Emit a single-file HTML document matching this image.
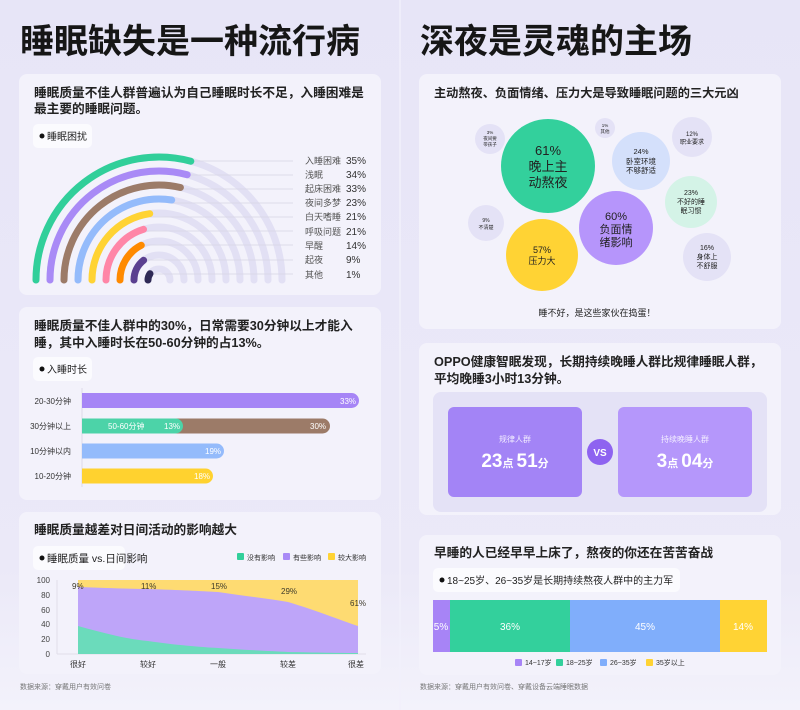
<!DOCTYPE html>
<html><head><meta charset="utf-8"><style>
html,body{margin:0;padding:0;width:800px;height:710px;overflow:hidden;background:#e9e7f8}
svg{display:block}
text{font-family:"Liberation Sans","Noto Sans CJK SC",sans-serif}
</style></head><body>
<svg width="800" height="710" viewBox="0 0 800 710" xmlns="http://www.w3.org/2000/svg">
<defs>
<linearGradient id="bg" x1="0" y1="0" x2="0" y2="1">
<stop offset="0" stop-color="#e7e5f7"/><stop offset="0.8" stop-color="#ebe9f8"/><stop offset="1" stop-color="#f3f2fb"/>
</linearGradient>
</defs>
<rect width="800" height="710" fill="url(#bg)"/>
<line x1="400" y1="0" x2="400" y2="710" stroke="#f1f0fb" stroke-width="1.5"/>

<!-- Titles -->
<text x="20" y="53" font-size="34" font-weight="bold" fill="#161616">睡眠缺失是一种流行病</text>
<text x="420" y="53" font-size="34" font-weight="bold" fill="#161616">深夜是灵魂的主场</text>

<!-- Panel 1 -->
<rect x="19" y="74" width="362" height="221" rx="8" fill="#f3f2fb"/>
<text x="34" y="97" font-size="12.7" font-weight="bold" fill="#222">睡眠质量不佳人群普遍认为自己睡眠时长不足，入睡困难是</text>
<text x="34" y="113" font-size="12.7" font-weight="bold" fill="#222">最主要的睡眠问题。</text>
<rect x="33" y="124" width="59" height="24" rx="5" fill="#fbfbfe"/>
<circle cx="42" cy="136" r="2.5" fill="#111"/>
<text x="47" y="140" font-size="10" fill="#222">睡眠困扰</text>

<g fill="none" stroke="#e2e0f4" stroke-width="7" stroke-linecap="round">
<path d="M36 280 A123 123 0 0 1 282 280"/>
<path d="M50 280 A109 109 0 0 1 268 280"/>
<path d="M64 280 A95 95 0 0 1 254 280"/>
<path d="M78 280 A81 81 0 0 1 240 280"/>
<path d="M92 280 A67 67 0 0 1 226 280"/>
<path d="M106 280 A53 53 0 0 1 212 280"/>
<path d="M120 280 A39 39 0 0 1 198 280"/>
<path d="M134 280 A25 25 0 0 1 184 280"/>
<path d="M148 280 A11 11 0 0 1 170 280"/>
</g>
<g stroke="#d6d4e4" stroke-width="0.8">
<line x1="191" y1="161" x2="293" y2="161"/>
<line x1="187" y1="175" x2="293" y2="175"/>
<line x1="180" y1="189" x2="293" y2="189"/>
<line x1="172" y1="203" x2="293" y2="203"/>
<line x1="150" y1="217" x2="293" y2="217"/>
<line x1="143" y1="231" x2="293" y2="231"/>
<line x1="141" y1="245" x2="293" y2="245"/>
<line x1="144" y1="260" x2="293" y2="260"/>
<line x1="150" y1="274" x2="293" y2="274"/>
</g>
<g fill="none" stroke-width="7" stroke-linecap="round">
<path d="M36 280 A123 123 0 0 1 190.8 161.2" stroke="#31cf9a"/>
<path d="M50 280 A109 109 0 0 1 187.2 174.7" stroke="#a98af6"/>
<path d="M64 280 A95 95 0 0 1 180.4 187.5" stroke="#9c7b68"/>
<path d="M78 280 A81 81 0 0 1 171.7 200" stroke="#94bbfb"/>
<path d="M92 280 A67 67 0 0 1 149.7 213.7" stroke="#ffd334"/>
<path d="M106 280 A53 53 0 0 1 143.5 229.3" stroke="#ff86a7"/>
<path d="M120 280 A39 39 0 0 1 141.3 245.3" stroke="#ff8a00"/>
<path d="M134 280 A25 25 0 0 1 143.6 260.3" stroke="#5b4090"/>
<path d="M148 280 A11 11 0 0 1 150 273.7" stroke="#2f2a56"/>
</g>
<g font-size="9" fill="#555">
<text x="305" y="164">入睡困难</text><text x="305" y="178">浅眠</text><text x="305" y="192">起床困难</text>
<text x="305" y="206">夜间多梦</text><text x="305" y="220">白天嗜睡</text><text x="305" y="235">呼吸问题</text>
<text x="305" y="249">早醒</text><text x="305" y="263">起夜</text><text x="305" y="278">其他</text>
</g>
<g font-size="10" fill="#333">
<text x="346" y="164">35%</text><text x="346" y="178">34%</text><text x="346" y="192">33%</text>
<text x="346" y="206">23%</text><text x="346" y="220">21%</text><text x="346" y="235">21%</text>
<text x="346" y="249">14%</text><text x="346" y="263">9%</text><text x="346" y="278">1%</text>
</g>

<!-- Panel 2 -->
<rect x="19" y="307" width="362" height="193" rx="8" fill="#f3f2fb"/>
<text x="34" y="330" font-size="12.7" font-weight="bold" fill="#222">睡眠质量不佳人群中的30%，日常需要30分钟以上才能入</text>
<text x="34" y="347" font-size="12.7" font-weight="bold" fill="#222">睡，其中入睡时长在50-60分钟的占13%。</text>
<rect x="33" y="357" width="59" height="24" rx="5" fill="#fbfbfe"/>
<circle cx="42" cy="369" r="2.5" fill="#111"/>
<text x="47" y="373" font-size="10" fill="#222">入睡时长</text>
<line x1="82" y1="388" x2="82" y2="487" stroke="#dddbe8" stroke-width="1"/>
<path d="M82 393 H351.5 A7.5 7.5 0 0 1 351.5 408 H82 Z" fill="#a685f6"/>
<path d="M82 418.5 H322.5 A7.5 7.5 0 0 1 322.5 433.5 H82 Z" fill="#9c7b68"/>
<path d="M82 418.5 H175.5 A7.5 7.5 0 0 1 175.5 433.5 H82 Z" fill="#4cd3a8"/>
<path d="M82 443.5 H216.5 A7.5 7.5 0 0 1 216.5 458.5 H82 Z" fill="#94bbfb"/>
<path d="M82 468.5 H205.5 A7.5 7.5 0 0 1 205.5 483.5 H82 Z" fill="#ffd22f"/>
<g font-size="8" fill="#333" text-anchor="end">
<text x="71" y="404">20-30分钟</text><text x="71" y="429">30分钟以上</text>
<text x="71" y="454">10分钟以内</text><text x="71" y="479">10-20分钟</text>
</g>
<g font-size="8" fill="#fff">
<text x="340" y="404">33%</text><text x="310" y="429">30%</text><text x="164" y="429">13%</text>
<text x="108" y="429">50-60分钟</text><text x="205" y="454">19%</text><text x="194" y="479">18%</text>
</g>

<!-- Panel 3 -->
<rect x="19" y="512" width="362" height="162" rx="8" fill="#f3f2fb"/>
<text x="34" y="534" font-size="12.7" font-weight="bold" fill="#222">睡眠质量越差对日间活动的影响越大</text>
<rect x="33" y="546" width="92" height="24" rx="5" fill="#fbfbfe"/>
<circle cx="42" cy="558" r="2.5" fill="#111"/>
<text x="47" y="562" font-size="10.5" fill="#222">睡眠质量 vs.日间影响</text>
<rect x="237" y="553" width="7" height="7" rx="1" fill="#31cf9a"/><text x="247" y="560" font-size="7" fill="#333">没有影响</text>
<rect x="283" y="553" width="7" height="7" rx="1" fill="#a98af6"/><text x="293" y="560" font-size="7" fill="#333">有些影响</text>
<rect x="328" y="553" width="7" height="7" rx="1" fill="#ffd334"/><text x="338" y="560" font-size="7" fill="#333">较大影响</text>
<line x1="57" y1="580" x2="57" y2="654" stroke="#e0deea"/>
<line x1="57" y1="654" x2="366" y2="654" stroke="#e0deea"/>
<g font-size="8" fill="#444" text-anchor="end">
<text x="50" y="583">100</text><text x="50" y="598">80</text><text x="50" y="613">60</text>
<text x="50" y="627">40</text><text x="50" y="642">20</text><text x="50" y="657">0</text>
</g>
<rect x="78" y="580" width="280" height="74" fill="#fedb72"/>
<path d="M78 587 C110 588,130 589,148 589 C180 590,200 591,218 592 C245 596,270 599,288 602 C315 610,340 620,358 626 L358 654 L78 654 Z" fill="#bea5f9"/>
<path d="M78 626 C100 632,125 639,148 641 C175 645,200 647,218 648 C245 650,270 651,288 652 C315 652.5,340 653,358 653 L358 654 L78 654 Z" fill="#6bdbbb"/>
<g font-size="8" fill="#3d3a2a">
<text x="72" y="589">9%</text><text x="141" y="589">11%</text><text x="211" y="589">15%</text>
<text x="281" y="594">29%</text><text x="350" y="606">61%</text>
</g>
<g font-size="8" fill="#333" text-anchor="middle">
<text x="78" y="667">很好</text><text x="148" y="667">较好</text><text x="218" y="667">一般</text>
<text x="288" y="667">较差</text><text x="356" y="667">很差</text>
</g>
<text x="20" y="689" font-size="7" fill="#777">数据来源：穿戴用户有效问卷</text>

<!-- Right Panel A -->
<rect x="419" y="74" width="362" height="255" rx="8" fill="#f3f2fb"/>
<text x="434" y="97" font-size="12.2" font-weight="bold" fill="#222">主动熬夜、负面情绪、压力大是导致睡眠问题的三大元凶</text>
<circle cx="548" cy="166" r="47" fill="#33d09c"/>
<circle cx="616" cy="228" r="37" fill="#b695fb"/>
<circle cx="542" cy="255" r="36" fill="#ffd334"/>
<circle cx="641" cy="161" r="29" fill="#d4e0fb"/>
<circle cx="691" cy="202" r="26" fill="#d4f3e7"/>
<circle cx="707" cy="257" r="24" fill="#e4e2f6"/>
<circle cx="692" cy="137" r="20" fill="#e4e2f6"/>
<circle cx="490" cy="139" r="15" fill="#e4e2f6"/>
<circle cx="486" cy="223" r="18" fill="#e4e2f6"/>
<circle cx="605" cy="128" r="10" fill="#e4e2f6"/>
<g text-anchor="middle" fill="#222">
<text x="548" y="155" font-size="13">61%</text><text x="548" y="171" font-size="13">晚上主</text><text x="548" y="187" font-size="13">动熬夜</text>
<text x="616" y="220" font-size="11">60%</text><text x="616" y="233" font-size="11">负面情</text><text x="616" y="246" font-size="11">绪影响</text>
<text x="542" y="253" font-size="9">57%</text><text x="542" y="264" font-size="9">压力大</text>
<text x="641" y="154" font-size="7.5">24%</text><text x="641" y="164" font-size="7.5">卧室环境</text><text x="641" y="173" font-size="7.5">不够舒适</text>
<text x="691" y="195" font-size="7">23%</text><text x="691" y="204" font-size="7">不好的睡</text><text x="691" y="213" font-size="7">眠习惯</text>
<text x="707" y="250" font-size="7">16%</text><text x="707" y="259" font-size="7">身体上</text><text x="707" y="268" font-size="7">不舒服</text>
<text x="692" y="136" font-size="6">12%</text><text x="692" y="144" font-size="6">职业要求</text>
<text x="490" y="134" font-size="4.5">3%</text><text x="490" y="140" font-size="4.5">夜间要</text><text x="490" y="146" font-size="4.5">带孩子</text>
<text x="486" y="222" font-size="5">9%</text><text x="486" y="229" font-size="5">不清楚</text>
<text x="605" y="127" font-size="4.5">1%</text><text x="605" y="133" font-size="4.5">其他</text>
</g>
<text x="597" y="316" font-size="9" fill="#222" text-anchor="middle">睡不好，是这些家伙在捣蛋！</text>

<!-- Right Panel B -->
<rect x="419" y="343" width="362" height="172" rx="8" fill="#f3f2fb"/>
<text x="434" y="366" font-size="12.7" font-weight="bold" fill="#222">OPPO健康智眠发现，长期持续晚睡人群比规律睡眠人群，</text>
<text x="434" y="383" font-size="12.7" font-weight="bold" fill="#222">平均晚睡3小时13分钟。</text>
<rect x="433" y="392" width="334" height="120" rx="8" fill="#e4e2f6"/>
<rect x="448" y="407" width="134" height="90" rx="6" fill="#a384f6"/>
<rect x="618" y="407" width="134" height="90" rx="6" fill="#b597fb"/>
<circle cx="600" cy="452" r="13" fill="#8e63f0"/>
<text x="600" y="456" font-size="10" fill="#fff" text-anchor="middle" font-weight="bold">VS</text>
<text x="515" y="442" font-size="8" fill="#f3eeff" text-anchor="middle">规律人群</text>
<text x="685" y="442" font-size="8" fill="#f3eeff" text-anchor="middle">持续晚睡人群</text>
<text x="515" y="467" fill="#fff" text-anchor="middle" font-weight="bold"><tspan font-size="19">23</tspan><tspan font-size="11">点 </tspan><tspan font-size="19">51</tspan><tspan font-size="11">分</tspan></text>
<text x="685" y="467" fill="#fff" text-anchor="middle" font-weight="bold"><tspan font-size="19">3</tspan><tspan font-size="11">点 </tspan><tspan font-size="19">04</tspan><tspan font-size="11">分</tspan></text>

<!-- Right Panel C -->
<rect x="419" y="535" width="362" height="140" rx="8" fill="#f3f2fb"/>
<text x="434" y="557" font-size="12.7" font-weight="bold" fill="#222">早睡的人已经早早上床了，熬夜的你还在苦苦奋战</text>
<rect x="433" y="568" width="247" height="24" rx="5" fill="#fbfbfe"/>
<circle cx="442" cy="580" r="2.5" fill="#111"/>
<text x="447" y="584" font-size="10" fill="#222">18~25岁、26~35岁是长期持续熬夜人群中的主力军</text>
<rect x="433" y="600" width="17" height="52" fill="#a784f6"/>
<rect x="450" y="600" width="120" height="52" fill="#33d09c"/>
<rect x="570" y="600" width="150" height="52" fill="#80aefb"/>
<rect x="720" y="600" width="47" height="52" fill="#ffd334"/>
<g font-size="10" fill="#fff" text-anchor="middle">
<text x="441" y="630">5%</text><text x="510" y="630">36%</text><text x="645" y="630">45%</text><text x="743" y="630">14%</text>
</g>
<rect x="515" y="659" width="7" height="7" rx="1" fill="#a784f6"/><text x="525" y="665" font-size="7" fill="#333">14~17岁</text>
<rect x="556" y="659" width="7" height="7" rx="1" fill="#33d09c"/><text x="566" y="665" font-size="7" fill="#333">18~25岁</text>
<rect x="600" y="659" width="7" height="7" rx="1" fill="#80aefb"/><text x="610" y="665" font-size="7" fill="#333">26~35岁</text>
<rect x="646" y="659" width="7" height="7" rx="1" fill="#ffd334"/><text x="656" y="665" font-size="7" fill="#333">35岁以上</text>
<text x="420" y="689" font-size="7" fill="#777">数据来源：穿戴用户有效问卷、穿戴设备云端睡眠数据</text>
</svg>
</body></html>
